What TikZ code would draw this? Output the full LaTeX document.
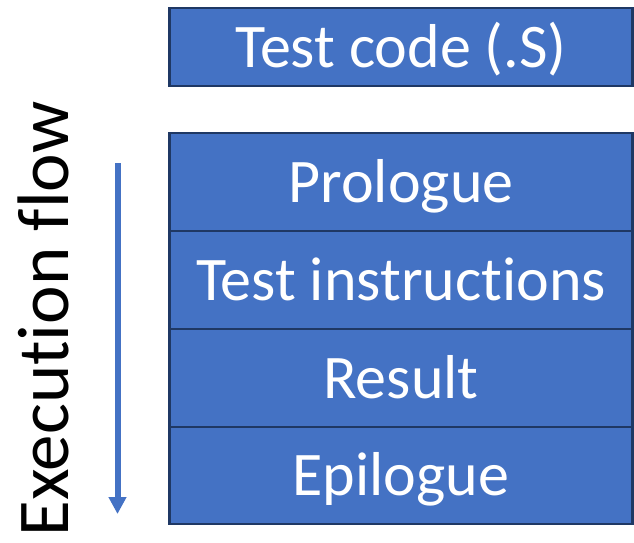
\documentclass[tikz,border=0pt]{standalone}
\usepackage{fontspec}
\setmainfont{Carlito}[Ligatures={NoCommon}]
\usetikzlibrary{arrows.meta}
\definecolor{boxfill}{HTML}{4472C4}
\definecolor{boxline}{HTML}{1F3864}
\begin{document}
\begin{tikzpicture}[x=1pt,y=-1pt,
  block/.style={draw=boxline, line width=2.5pt, fill=boxfill, text=white,
    minimum width=463pt, inner sep=0pt, text height=40pt, text depth=0pt,
    font=\fontsize{62}{62}\selectfont},
  flowarrow/.style={draw=boxfill, line width=6pt,
    -{Triangle[length=17pt,width=17pt]}}]
\useasboundingbox (0,0) rectangle (634,542);
\node[block, minimum height=78pt] (code) at (401,47) {Test code (.S)};
\node[block, minimum height=98pt] (pro) at (401,182) {Prologue};
\node[block, minimum height=98pt] (ins) at (401,280) {Test instructions};
\node[block, minimum height=98pt] (res) at (401,378) {Result};
\node[block, minimum height=97pt] (epi) at (401,475.5) {Epilogue};
\coordinate (astart) at (117.5,163);
\coordinate (aend) at (117.5,514);
\draw[flowarrow] (astart) -- (aend);
\node[rotate=90, inner sep=0pt, text height=47pt, text depth=0pt,
  font=\fontsize{73}{73}\selectfont] (flow) at (44.5,319) {Execution flow};
\end{tikzpicture}
\end{document}
